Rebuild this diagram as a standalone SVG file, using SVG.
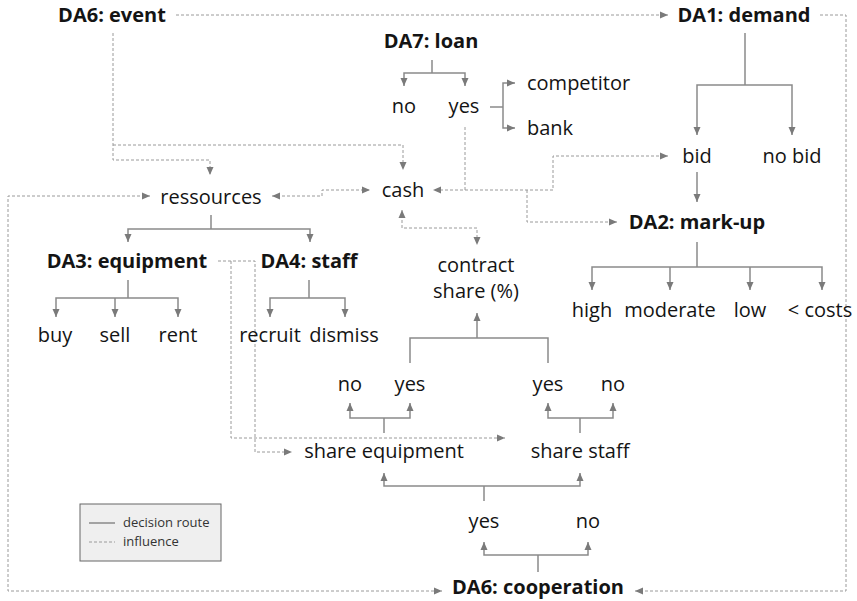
<svg xmlns="http://www.w3.org/2000/svg" width="857" height="601" viewBox="0 0 857 601">
<style>
text{font-family:"Open Sans","Noto Sans","Liberation Sans",sans-serif;font-size:20px;fill:#141414;text-anchor:middle}
.b{font-weight:bold}
.s{text-anchor:start}
.sol{fill:none;stroke:#8a8a8a;stroke-width:1.5}
.das{fill:none;stroke:#9a9a9a;stroke-width:1;stroke-dasharray:3 2}
.leg{font-size:13px;text-anchor:start;fill:#333}
</style>
<defs>
<marker id="a" markerUnits="userSpaceOnUse" markerWidth="9" markerHeight="8" refX="8" refY="4" orient="auto-start-reverse"><path d="M0,0.5 L8,4 L0,7.5 z" fill="#7a7a7a"/></marker>
</defs>
<g id="connectors">
<path class="sol" d="M432,60 V73"/>
<path class="sol" d="M432,73 H404 V86" marker-end="url(#a)"/>
<path class="sol" d="M432,73 H465 V86" marker-end="url(#a)"/>
<path class="sol" d="M490,107 H503"/>
<path class="sol" d="M503,107 V83 H515" marker-end="url(#a)"/>
<path class="sol" d="M503,107 V128 H515" marker-end="url(#a)"/>
<path class="sol" d="M745,33 V85"/>
<path class="sol" d="M745,85 H697 V135" marker-end="url(#a)"/>
<path class="sol" d="M745,85 H792 V135" marker-end="url(#a)"/>
<path class="sol" d="M697,172 V202" marker-end="url(#a)"/>
<path class="sol" d="M697,242 V267"/>
<path class="sol" d="M697,267 H592 V290" marker-end="url(#a)"/>
<path class="sol" d="M697,267 H822 V290" marker-end="url(#a)"/>
<path class="sol" d="M670,267 V290" marker-end="url(#a)"/>
<path class="sol" d="M750,267 V290" marker-end="url(#a)"/>
<path class="sol" d="M211,215 V229"/>
<path class="sol" d="M211,229 H128 V242" marker-end="url(#a)"/>
<path class="sol" d="M211,229 H310 V242" marker-end="url(#a)"/>
<path class="sol" d="M128,280 V298"/>
<path class="sol" d="M128,298 H56 V317" marker-end="url(#a)"/>
<path class="sol" d="M128,298 H178 V317" marker-end="url(#a)"/>
<path class="sol" d="M115,298 V317" marker-end="url(#a)"/>
<path class="sol" d="M309,280 V298"/>
<path class="sol" d="M309,298 H270 V317" marker-end="url(#a)"/>
<path class="sol" d="M309,298 H345 V317" marker-end="url(#a)"/>
<path class="sol" d="M384,433 V418"/>
<path class="sol" d="M384,418 H350 V403" marker-end="url(#a)"/>
<path class="sol" d="M384,418 H410 V403" marker-end="url(#a)"/>
<path class="sol" d="M580,433 V418"/>
<path class="sol" d="M580,418 H548 V403" marker-end="url(#a)"/>
<path class="sol" d="M580,418 H613 V403" marker-end="url(#a)"/>
<path class="sol" d="M410,363 V338 H548 V363"/>
<path class="sol" d="M477,338 V313" marker-end="url(#a)"/>
<path class="sol" d="M484,501 V486"/>
<path class="sol" d="M484,486 H384 V473" marker-end="url(#a)"/>
<path class="sol" d="M484,486 H580 V473" marker-end="url(#a)"/>
<path class="sol" d="M538,572 V555"/>
<path class="sol" d="M538,555 H484 V542" marker-end="url(#a)"/>
<path class="sol" d="M538,555 H588 V542" marker-end="url(#a)"/>
<path class="das" d="M176,15 H668" marker-end="url(#a)"/>
<path class="das" d="M820,15 H846 V591 H635" marker-end="url(#a)"/>
<path class="das" d="M113,33 V160 H210 V175" marker-end="url(#a)"/>
<path class="das" d="M113,145 H403 V170" marker-end="url(#a)"/>
<path class="das" d="M272,196 H322 V190 H370" marker-start="url(#a)" marker-end="url(#a)"/>
<path class="das" d="M465,127 V190 H433" marker-end="url(#a)"/>
<path class="das" d="M465,190 H553 V156 H668" marker-end="url(#a)"/>
<path class="das" d="M527,190 V222 H617" marker-end="url(#a)"/>
<path class="das" d="M402,210 V228 H477 V245" marker-start="url(#a)" marker-end="url(#a)"/>
<path class="das" d="M150,196 H8 V591 H442" marker-start="url(#a)" marker-end="url(#a)"/>
<path class="das" d="M218,261 H255 V452 H292" marker-end="url(#a)"/>
<path class="das" d="M231,261 V438 H505" marker-end="url(#a)"/>
</g>
<g id="da6-event"><text class="b" x="112" y="22">DA6: event</text></g>
<g id="da1-demand"><text class="b" x="744" y="22">DA1: demand</text></g>
<g id="da7-loan"><text class="b" x="431" y="48">DA7: loan</text></g>
<g id="loan-no"><text x="404" y="113">no</text></g>
<g id="loan-yes"><text x="464" y="113">yes</text></g>
<g id="competitor"><text class="s" x="527" y="90">competitor</text></g>
<g id="bank"><text class="s" x="527" y="135">bank</text></g>
<g id="bid"><text x="697" y="163">bid</text></g>
<g id="no-bid"><text x="792" y="163">no bid</text></g>
<g id="da2-markup"><text class="b" x="697" y="229">DA2: mark-up</text></g>
<g id="high"><text x="592" y="317">high</text></g>
<g id="moderate"><text x="670" y="317">moderate</text></g>
<g id="low"><text x="750" y="317">low</text></g>
<g id="below-costs"><text x="820" y="317">&lt; costs</text></g>
<g id="ressources"><text x="211" y="204">ressources</text></g>
<g id="cash"><text x="403" y="197">cash</text></g>
<g id="da3-equipment"><text class="b" x="127" y="268">DA3: equipment</text></g>
<g id="da4-staff"><text class="b" x="309" y="268">DA4: staff</text></g>
<g id="buy"><text x="55" y="342">buy</text></g>
<g id="sell"><text x="115" y="342">sell</text></g>
<g id="rent"><text x="178" y="342">rent</text></g>
<g id="recruit"><text x="270" y="342">recruit</text></g>
<g id="dismiss"><text x="344" y="342">dismiss</text></g>
<g id="contract-share"><text x="476" y="272">contract</text><text x="476" y="298">share (%)</text></g>
<g id="eq-no"><text x="350" y="391">no</text></g>
<g id="eq-yes"><text x="410" y="391">yes</text></g>
<g id="st-yes"><text x="548" y="391">yes</text></g>
<g id="st-no"><text x="613" y="391">no</text></g>
<g id="share-equipment"><text x="384" y="458">share equipment</text></g>
<g id="share-staff"><text x="580" y="458">share staff</text></g>
<g id="coop-yes"><text x="484" y="528">yes</text></g>
<g id="coop-no"><text x="588" y="528">no</text></g>
<g id="da6-cooperation"><text class="b" x="538" y="594">DA6: cooperation</text></g>
<g id="legend">
<rect x="80" y="504" width="141" height="57" fill="#efefef" stroke="#666" stroke-width="1"/>
<path class="sol" d="M89,523 H115" stroke-width="1"/>
<path class="das" d="M89,542 H115"/>
<text class="leg" x="123" y="527">decision route</text>
<text class="leg" x="123" y="546">influence</text>
</g>
</svg>
